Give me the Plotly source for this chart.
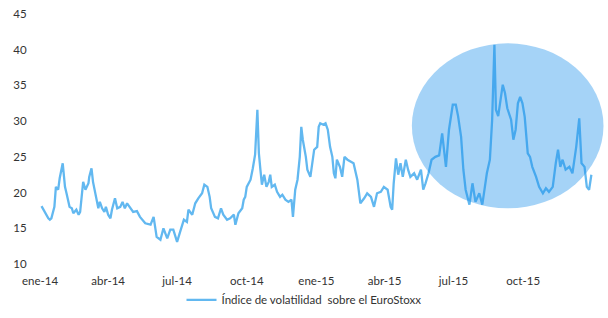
import pandas as pd
import plotly.graph_objects as go

# Data: days since 2014-01-01 and index value
day_offsets = [2, 7, 11, 13, 15, 19, 21, 24, 26, 30, 33, 35, 39, 42, 44, 48, 51, 53, 55, 57,
               60, 62, 64, 65, 68, 70, 74, 77, 79, 82, 85, 87, 90, 93, 95, 99, 102, 106, 109, 112,
               115, 119, 123, 128, 132, 139, 146, 150, 154, 159, 163, 168, 172, 176, 181, 185, 190, 194, 196, 201,
               205, 209, 214, 217, 221, 224, 226, 231, 235, 239, 242, 247, 251, 256, 258, 262, 267, 269, 271, 273,
               278, 281, 284, 287, 289, 291, 293, 296, 299, 302, 304, 306, 310, 313, 317, 320, 324, 328, 332, 334,
               337, 340, 343, 345, 347, 351, 353, 357, 359, 362, 366, 368, 370, 374, 377, 380, 383, 386, 388, 390,
               392, 396, 399, 402, 406, 410, 414, 419, 423, 428, 432, 437, 441, 445, 450, 454, 459, 463, 465, 467,
               470, 473, 476, 479, 483, 486, 489, 494, 498, 503, 506, 509, 513, 517, 522, 527, 531, 536, 540, 545,
               549, 552, 556, 559, 562, 567, 571, 575, 580, 584, 590, 594, 597, 600, 602, 605, 608, 611, 614, 617,
               622, 625, 628, 631, 634, 637, 640, 644, 647, 650, 655, 659, 664, 668, 672, 677, 681, 684, 687, 690,
               694, 699, 703, 708, 712, 715, 719, 722, 725, 728]
vstoxx = [18.1, 17.1, 16.4, 16.2, 16.4, 18.0, 20.8, 20.4, 22.0, 24.1, 20.8, 19.9, 18.0, 17.8, 17.1, 17.6, 16.9, 17.3, 19.4, 21.5,
          20.4, 20.8, 21.3, 22.2, 23.4, 21.5, 19.4, 17.8, 18.7, 17.8, 17.3, 18.0, 16.9, 16.4, 17.6, 19.2, 17.8, 18.0, 18.7, 17.8,
          18.5, 17.8, 17.3, 17.4, 16.6, 15.7, 15.5, 16.6, 13.8, 13.4, 15.0, 13.6, 14.8, 14.8, 13.1, 14.5, 16.2, 15.9, 17.6, 16.9,
          18.5, 19.2, 19.9, 21.1, 20.8, 19.4, 17.8, 16.6, 16.4, 17.8, 16.9, 16.2, 16.4, 16.9, 15.5, 17.1, 17.8, 19.0, 19.4, 20.8,
          21.8, 23.4, 25.3, 31.6, 25.5, 23.2, 21.1, 22.5, 20.8, 21.5, 22.5, 20.8, 21.1, 20.1, 19.4, 19.7, 19.0, 18.7, 19.0, 16.6,
          20.4, 21.8, 25.0, 29.2, 27.4, 25.0, 23.2, 22.2, 24.1, 26.0, 26.4, 29.2, 29.7, 29.5, 29.7, 28.8, 26.4, 25.0, 22.7, 22.0,
          24.6, 23.6, 22.2, 25.0, 24.6, 24.3, 24.1, 21.8, 18.5, 19.2, 19.9, 19.4, 18.0, 19.9, 20.1, 20.8, 20.4, 18.0, 17.6, 21.3,
          24.8, 22.5, 24.1, 22.2, 24.6, 23.2, 22.2, 22.7, 21.8, 23.2, 20.4, 21.3, 22.7, 24.6, 25.0, 25.2, 28.3, 23.6, 28.8, 32.3,
          32.3, 30.7, 27.8, 23.2, 20.4, 18.3, 21.3, 18.7, 19.9, 18.3, 22.7, 24.6, 30.2, 40.7, 31.6, 30.7, 33.0, 35.1, 33.9, 31.8,
          30.2, 27.4, 28.8, 32.5, 33.4, 32.5, 30.6, 25.5, 25.0, 23.6, 22.2, 20.8, 19.9, 20.6, 20.1, 20.8, 24.1, 26.0, 23.6, 24.6,
          23.2, 23.6, 22.7, 26.4, 30.4, 24.1, 23.6, 20.8, 20.4, 22.5]

tick_dates = ["2014-01-01", "2014-04-01", "2014-07-01", "2014-10-01",
              "2015-01-01", "2015-04-01", "2015-07-01", "2015-10-01"]
tick_labels = ["ene-14", "abr-14", "jul-14", "oct-14", "ene-15", "abr-15", "jul-15", "oct-15"]
y_ticks = [10, 15, 20, 25, 30, 35, 40, 45]
series_name = "Índice de volatilidad  sobre el EuroStoxx"

# highlighted period (ellipse)
highlight_x = ["2015-05-07", "2016-01-15"]
highlight_y = [17.8, 40.9]

dates = pd.Timestamp("2014-01-01") + pd.to_timedelta(day_offsets, unit="D")

FONT = "Lato"
TXT = "#333333"

fig = go.Figure()
fig.add_trace(go.Scatter(
    x=dates, y=vstoxx, mode="lines", name=series_name,
    line=dict(color="#62b8f0", width=2.3),
))

fig.add_shape(
    type="circle", xref="x", yref="y",
    x0=highlight_x[0], x1=highlight_x[1], y0=highlight_y[0], y1=highlight_y[1],
    fillcolor="rgba(30,145,235,0.4)", line=dict(width=0), layer="above",
)

fig.update_layout(
    width=608, height=318,
    margin=dict(l=40, r=3, t=14, b=54, autoexpand=False),
    paper_bgcolor="white", plot_bgcolor="white",
    font=dict(family=FONT, size=11, color=TXT),
    showlegend=True,
    legend=dict(orientation="h", xref="container", yref="container",
                x=0.5, xanchor="center", y=0.057, yanchor="middle",
                itemwidth=30,
                font=dict(family=FONT, size=11.5, color=TXT)),
    xaxis=dict(
        range=["2014-01-01", "2016-01-17"],
        tickvals=tick_dates, ticktext=tick_labels,
        showgrid=False, zeroline=False, showline=False,
        ticks="outside", ticklen=6, tickcolor="rgba(0,0,0,0)",
        tickfont=dict(family=FONT, size=11.5, color=TXT),
    ),
    yaxis=dict(
        range=[10, 45], tickvals=y_ticks,
        showgrid=False, zeroline=False, showline=False,
        ticks="outside", ticklen=10, tickcolor="rgba(0,0,0,0)",
        tickfont=dict(family=FONT, size=11.5, color=TXT),
    ),
)

fig.write_html("out.html", config={"displayModeBar": False},
               post_script="document.body.style.margin='0';document.body.style.overflow='hidden';")
